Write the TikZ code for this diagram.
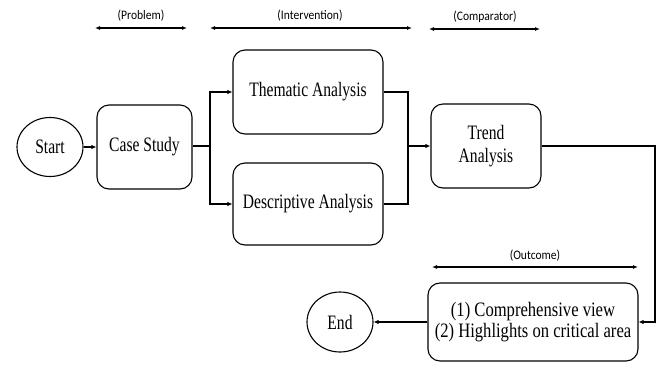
\documentclass[tikz,border=0pt]{standalone}
\usepackage{fontspec}
\setmainfont{Liberation Serif}
\newfontfamily\boxfont[FakeStretch=0.76]{Liberation Serif}
\newfontfamily\widebox[FakeStretch=0.81]{Liberation Serif}
\newfontfamily\labfont[FakeStretch=0.89]{Carlito}
\usetikzlibrary{arrows.meta,shapes.geometric}
\begin{document}
\begin{tikzpicture}[x=1pt,y=-1pt,line width=1.1pt,
  box/.style={draw, rounded corners=12pt, font=\boxfont\fontsize{20.5}{23}\selectfont, align=center, inner sep=0pt},
  oval/.style={draw, ellipse, font=\boxfont\fontsize{20.5}{23}\selectfont, inner sep=0pt},
  arr/.style={-{Latex[length=5pt,width=4.5pt]}},
  dbl/.style={{Latex[length=5pt,width=4pt]}-{Latex[length=5pt,width=4pt]}},
  lab/.style={font=\labfont\fontsize{13}{15}\selectfont, inner sep=0pt}
]
\useasboundingbox (0,0) rectangle (664,365);
\fill[white] (0,0) rectangle (664,365);

\node[oval, minimum width=66pt, minimum height=59pt] (start) at (50,147) {Start};
\node[box, minimum width=95pt, minimum height=84pt] (case) at (144.5,147) {Case Study};
\node[box, minimum width=150pt, minimum height=84pt] (them) at (308,92) {Thematic Analysis};
\node[box, minimum width=150pt, minimum height=82pt] (desc) at (308,204) {Descriptive Analysis};
\node[box, minimum width=110pt, minimum height=84pt] (trend) at (486,146) {Trend\\Analysis};
\node[box, minimum width=210pt, minimum height=78pt, font=\widebox\fontsize{20.5}{21.5}\selectfont] (out) at (533,322) {(1) Comprehensive view\\(2) Highlights on critical area};
\node[oval, minimum width=66pt, minimum height=60pt] (end) at (340,322) {End};

\coordinate (split) at (210,146);
\coordinate (merge) at (408,146);
\coordinate (turn) at (655,146);

\draw[arr] (start.east) -- (case.west |- start.east);
\draw (case.east |- split) -- (split);
\draw[arr] (split) |- (them.west);
\draw[arr] (split) |- (desc.west);
\draw (them.east) -| (merge);
\draw (desc.east) -| (merge);
\draw[arr] (merge) -- (trend.west);
\draw[arr] (trend.east) -- (turn) |- (out.east);
\draw[arr] (out.west) -- (end.east);

\coordinate (p1) at (95,28);
\coordinate (p2) at (187,28);
\coordinate (i1) at (210,28);
\coordinate (i2) at (412,28);
\coordinate (c1) at (429,29);
\coordinate (c2) at (540,29);
\coordinate (o1) at (432,267);
\coordinate (o2) at (638,267);
\draw[dbl] (p1) -- (p2);
\draw[dbl] (i1) -- (i2);
\draw[dbl] (c1) -- (c2);
\draw[dbl] (o1) -- (o2);
\node[lab] (plab) at (141,16) {(Problem)};
\node[lab] (ilab) at (310,16) {(Intervention)};
\node[lab] (clab) at (485,17) {(Comparator)};
\node[lab] (olab) at (535,256) {(Outcome)};
\end{tikzpicture}
\end{document}
